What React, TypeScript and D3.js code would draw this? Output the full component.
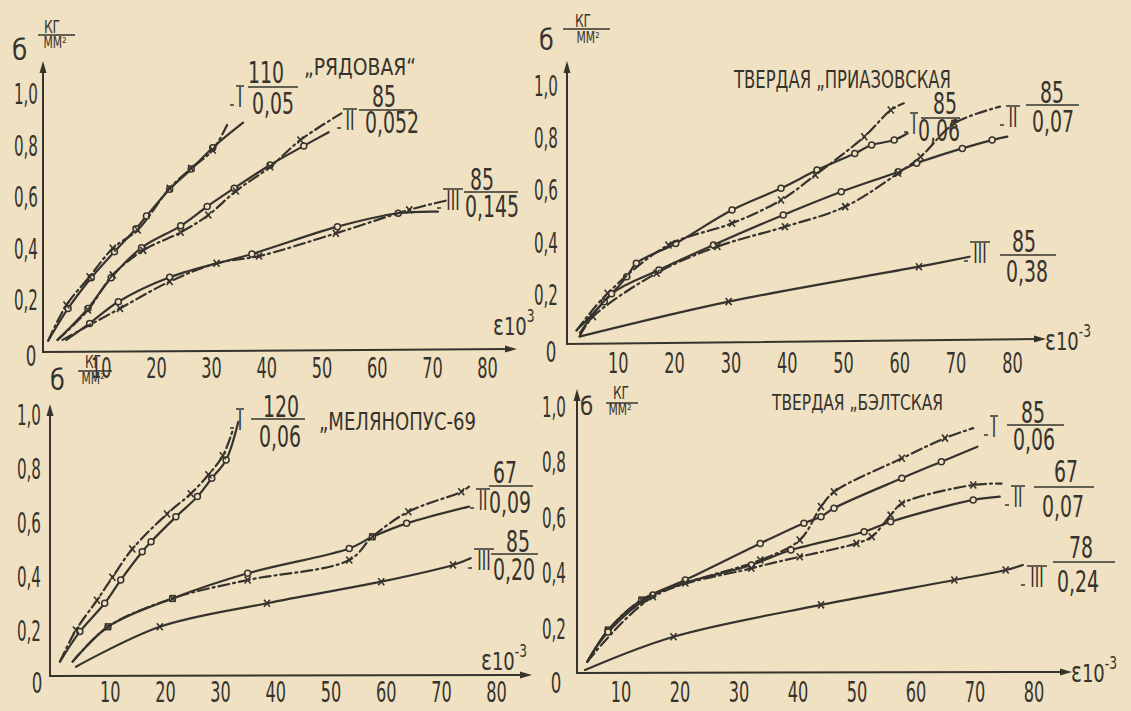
import * as d3 from "d3";
import React, { useEffect, useRef } from "react";

type Pt = [number, number];

const xTicks = [10, 20, 30, 40, 50, 60, 70, 80];
const yTicks = [0.2, 0.4, 0.6, 0.8, 1.0];
const yTickLabels = ["0,2", "0,4", "0,6", "0,8", "1,0"];

// "Рядовая"
const ryadIo: Pt[] = [[0.4, 0.04], [4.0, 0.165], [8.2, 0.284], [12.4, 0.385], [16.3, 0.474], [18.2, 0.523], [22.4, 0.627], [26.3, 0.705], [30.2, 0.788], [35.7, 0.885]];
const ryadIx: Pt[] = [[0.4, 0.04], [3.7, 0.178], [7.9, 0.288], [12.1, 0.398], [16.6, 0.469], [22.4, 0.631], [26.3, 0.708], [30.2, 0.779], [32.8, 0.876]];
const ryadIIo: Pt[] = [[2.1, 0.043], [7.6, 0.165], [11.8, 0.284], [17.3, 0.4], [24.4, 0.485], [29.2, 0.56], [34.1, 0.631], [40.6, 0.721], [46.7, 0.795], [51.2, 0.848]];
const ryadIIx: Pt[] = [[2.1, 0.043], [7.6, 0.159], [12.1, 0.295], [17.6, 0.39], [24.4, 0.46], [29.4, 0.527], [34.4, 0.62], [40.6, 0.714], [46.1, 0.818], [53.5, 0.921]];
const ryadIIIo: Pt[] = [[3.7, 0.043], [7.9, 0.107], [13.1, 0.191], [22.4, 0.286], [37.3, 0.376], [52.8, 0.482], [63.8, 0.534], [71.0, 0.54]];
const ryadIIIx: Pt[] = [[3.0, 0.043], [13.4, 0.165], [22.4, 0.269], [30.9, 0.34], [38.6, 0.368], [52.5, 0.456], [65.8, 0.547], [72.9, 0.585]];

// "Твердая Приазовская"
const priIo: Pt[] = [[2.6, 0.06], [7.5, 0.17], [11.5, 0.265], [13.2, 0.317], [20.2, 0.393], [30.2, 0.521], [38.9, 0.604], [45.3, 0.674], [52.0, 0.738], [55.0, 0.77], [59.0, 0.789], [61.4, 0.815]];
const priIx: Pt[] = [[2.6, 0.06], [8.1, 0.202], [18.9, 0.387], [30.2, 0.47], [38.9, 0.559], [45.0, 0.655], [53.7, 0.802], [58.4, 0.904], [60.7, 0.93]];
const priIIo: Pt[] = [[3.2, 0.05], [8.8, 0.2], [17.2, 0.291], [26.9, 0.387], [39.3, 0.502], [49.6, 0.591], [59.7, 0.668], [63.0, 0.7], [71.1, 0.757], [76.4, 0.789], [79.1, 0.802]];
const priIIx: Pt[] = [[3.2, 0.04], [5.5, 0.112], [16.8, 0.279], [27.6, 0.381], [39.6, 0.457], [50.3, 0.534], [59.7, 0.662], [63.7, 0.725], [69.7, 0.853], [77.8, 0.917]];
const priIII: Pt[] = [[3.1, 0.036], [29.6, 0.17], [63.4, 0.304], [72.4, 0.342]];

// "Мелянопус-69"
const melIo: Pt[] = [[0.9, 0.083], [4.5, 0.194], [9.0, 0.299], [11.9, 0.385], [15.8, 0.49], [17.4, 0.527], [21.9, 0.619], [25.8, 0.694], [28.4, 0.762], [31.0, 0.83], [33.2, 0.971]];
const melIx: Pt[] = [[0.9, 0.083], [3.8, 0.2], [7.6, 0.31], [10.4, 0.395], [14.0, 0.5], [20.3, 0.63], [24.6, 0.705], [27.8, 0.775], [30.4, 0.845], [32.2, 0.94]];
const melIIo: Pt[] = [[3.2, 0.083], [9.6, 0.212], [21.3, 0.317], [34.9, 0.41], [53.3, 0.502], [57.5, 0.545], [63.7, 0.595], [75.0, 0.657]];
const melIIx: Pt[] = [[3.2, 0.083], [9.6, 0.212], [21.3, 0.317], [34.9, 0.385], [53.3, 0.459], [57.5, 0.545], [64.0, 0.638], [73.6, 0.712], [75.0, 0.731]];
const melIII: Pt[] = [[3.8, 0.064], [19.0, 0.212], [38.4, 0.299], [59.1, 0.379], [72.1, 0.441], [75.3, 0.466]];

// "Твердая Бэлтская"
const belIo: Pt[] = [[4.3, 0.077], [7.8, 0.191], [13.5, 0.3], [20.9, 0.372], [33.6, 0.504], [41.0, 0.577], [43.9, 0.6], [46.1, 0.631], [57.6, 0.739], [64.3, 0.799], [70.4, 0.853]];
const belIx: Pt[] = [[4.3, 0.077], [7.8, 0.191], [13.5, 0.3], [20.9, 0.361], [33.6, 0.444], [40.3, 0.516], [43.9, 0.637], [46.1, 0.69], [57.6, 0.811], [64.9, 0.884], [69.7, 0.92]];
const belIIo: Pt[] = [[4.3, 0.077], [7.8, 0.184], [15.4, 0.318], [32.1, 0.426], [38.8, 0.48], [51.2, 0.546], [55.7, 0.582], [69.7, 0.661], [74.2, 0.673]];
const belIIx: Pt[] = [[4.3, 0.077], [15.4, 0.311], [32.1, 0.414], [40.3, 0.456], [49.9, 0.504], [52.5, 0.528], [55.7, 0.606], [57.6, 0.648], [69.7, 0.715], [74.5, 0.72]];
const belIII: Pt[] = [[3.9, 0.047], [18.9, 0.167], [43.9, 0.282], [66.5, 0.372], [75.2, 0.408], [78.1, 0.426]];

const INK = "#36332e";
const PAPER = "#efe1c1";
const FONT = "'Liberation Sans Narrow', 'DejaVu Sans Condensed', 'Arial Narrow', sans-serif";

interface Series { data: Pt[]; dash: boolean; marker: "o" | "x" }
interface Legend { roman: string; rx: number; ry: number; num: string; nx: number; ny: number; den: string; dx: number; dy: number; lx1: number; lx2: number; ly: number }
interface Panel {
  title: string; tx: number; ty: number; tw: number; ts: number;
  ox: number; oy: number; xEnd: number; oyEnd: number; yTop: number;
  xr: [number, number]; yr: [number, number];
  xLabY: number; yLabX: number; zero: [number, number];
  sig: { bx: number; by: number; bs: number; kx: number; ky: number; lx1: number; lx2: number; ly: number; mx: number; my: number };
  eps: { x: number; y: number; sup: string };
  series: Series[]; legends: Legend[];
}

const panels: Panel[] = [
  {
    title: "„РЯДОВАЯ“", tx: 304, ty: 75, tw: 112, ts: 23,
    ox: 43, oy: 352, xEnd: 513, oyEnd: 349, yTop: 65,
    xr: [46, 487.6], yr: [351, 93], xLabY: 378, yLabX: 38, zero: [31, 366],
    sig: { bx: 12, by: 60, bs: 29, kx: 52, ky: 33, lx1: 38, lx2: 75, ly: 35, mx: 55, my: 48 },
    eps: { x: 493, y: 335, sup: "3" },
    series: [
      { data: ryadIo, dash: false, marker: "o" }, { data: ryadIx, dash: true, marker: "x" },
      { data: ryadIIo, dash: false, marker: "o" }, { data: ryadIIx, dash: true, marker: "x" },
      { data: ryadIIIo, dash: false, marker: "o" }, { data: ryadIIIx, dash: true, marker: "x" },
    ],
    legends: [
      { roman: "I", rx: 240, ry: 107, num: "110", nx: 266, ny: 83, den: "0,05", dx: 273, dy: 114, lx1: 248, lx2: 298, ly: 87 },
      { roman: "II", rx: 350, ry: 130, num: "85", nx: 384, ny: 107, den: "0,052", dx: 392, dy: 133, lx1: 359, lx2: 413, ly: 110 },
      { roman: "III", rx: 453, ry: 210, num: "85", nx: 482, ny: 190, den: "0,145", dx: 492, dy: 217, lx1: 464, lx2: 518, ly: 192 },
    ],
  },
  {
    title: "ТВЕРДАЯ „ПРИАЗОВСКАЯ", tx: 734, ty: 88, tw: 217, ts: 24,
    ox: 567, oy: 344, xEnd: 1042, oyEnd: 339, yTop: 65,
    xr: [562, 1012.4], yr: [346, 85], xLabY: 373, yLabX: 558, zero: [551, 362],
    sig: { bx: 539, by: 50, bs: 28, kx: 583, ky: 27, lx1: 563, lx2: 610, ly: 29, mx: 588, my: 43 },
    eps: { x: 1045, y: 350, sup: "-3" },
    series: [
      { data: priIo, dash: false, marker: "o" }, { data: priIx, dash: true, marker: "x" },
      { data: priIIo, dash: false, marker: "o" }, { data: priIIx, dash: true, marker: "x" },
      { data: priIII, dash: false, marker: "x" },
    ],
    legends: [
      { roman: "I", rx: 914, ry: 134, num: "85", nx: 945, ny: 114, den: "0,06", dx: 939, dy: 141, lx1: 921, lx2: 960, ly: 118 },
      { roman: "II", rx: 1013, ry: 127, num: "85", nx: 1052, ny: 103, den: "0,07", dx: 1053, dy: 132, lx1: 1026, lx2: 1079, ly: 105 },
      { roman: "III", rx: 980, ry: 263, num: "85", nx: 1024, ny: 252, den: "0,38", dx: 1027, dy: 282, lx1: 1000, lx2: 1056, ly: 255 },
    ],
  },
  {
    title: "„МЕЛЯНОПУС-69", tx: 319, ty: 430, tw: 157, ts: 25,
    ox: 50, oy: 676, xEnd: 528, oyEnd: 675, yTop: 408,
    xr: [55, 496.6], yr: [684, 414], xLabY: 702, yLabX: 41, zero: [37, 693],
    sig: { bx: 50, by: 390, bs: 28, kx: 93, ky: 368, lx1: 78, lx2: 112, ly: 371, mx: 93, my: 384 },
    eps: { x: 481, y: 670, sup: "-3" },
    series: [
      { data: melIo, dash: false, marker: "o" }, { data: melIx, dash: true, marker: "x" },
      { data: melIIo, dash: false, marker: "o" }, { data: melIIx, dash: true, marker: "x" },
      { data: melIII, dash: false, marker: "x" },
    ],
    legends: [
      { roman: "I", rx: 240, ry: 430, num: "120", nx: 281, ny: 417, den: "0,06", dx: 280, dy: 447, lx1: 251, lx2: 305, ly: 419 },
      { roman: "II", rx: 483, ry: 510, num: "67", nx: 505, ny: 483, den: "0,09", dx: 510, dy: 513, lx1: 489, lx2: 533, ly: 486 },
      { roman: "III", rx: 484, ry: 570, num: "85", nx: 518, ny: 552, den: "0,20", dx: 514, dy: 580, lx1: 491, lx2: 538, ly: 554 },
    ],
  },
  {
    title: "ТВЕРДАЯ „БЭЛТСКАЯ", tx: 772, ty: 410, tw: 171, ts: 21,
    ox: 577, oy: 673, xEnd: 1068, oyEnd: 672, yTop: 393,
    xr: [562, 1034], yr: [683, 406], xLabY: 702, yLabX: 566, zero: [556, 693],
    sig: { bx: 580, by: 415, bs: 25, kx: 621, ky: 399, lx1: 606, lx2: 638, ly: 403, mx: 620, my: 415 },
    eps: { x: 1071, y: 682, sup: "-3" },
    series: [
      { data: belIo, dash: false, marker: "o" }, { data: belIx, dash: true, marker: "x" },
      { data: belIIo, dash: false, marker: "o" }, { data: belIIx, dash: true, marker: "x" },
      { data: belIII, dash: false, marker: "x" },
    ],
    legends: [
      { roman: "I", rx: 994, ry: 437, num: "85", nx: 1033, ny: 423, den: "0,06", dx: 1034, dy: 450, lx1: 1007, lx2: 1064, ly: 425 },
      { roman: "II", rx: 1018, ry: 507, num: "67", nx: 1066, ny: 482, den: "0,07", dx: 1063, dy: 517, lx1: 1034, lx2: 1094, ly: 487 },
      { roman: "III", rx: 1037, ry: 587, num: "78", nx: 1081, ny: 558, den: "0,24", dx: 1078, dy: 592, lx1: 1053, lx2: 1115, ly: 562 },
    ],
  },
];

const W = 1131;
const H = 711;

export default function App() {
  const svgRef = useRef<SVGSVGElement | null>(null);

  useEffect(() => {
    if (!svgRef.current) return;
    const svg = d3.select(svgRef.current);
    svg.selectAll("*").remove();

    svg.append("rect").attr("width", W).attr("height", H).attr("fill", PAPER);

    // narrow, tall lettering like the stencil on the original
    const txt = (g: any, x: number, y: number, s: string, size: number, anchor = "middle", sx = 0.85) =>
      g
        .append("text")
        .attr("transform", `translate(${x},${y}) scale(${sx},1)`)
        .attr("text-anchor", anchor)
        .attr("font-size", size)
        .attr("fill", INK)
        .text(s);

    panels.forEach((p) => {
      const g = svg.append("g").style("font-family", FONT);
      const x = d3.scaleLinear().domain([0, 80]).range(p.xr);
      const y = d3.scaleLinear().domain([0, 1]).range(p.yr);

      // axes with arrows
      g.append("path")
        .attr("d", `M${p.ox},${p.yTop}L${p.ox},${p.oy}L${p.xEnd},${p.oyEnd}`)
        .attr("fill", "none")
        .attr("stroke", INK)
        .attr("stroke-width", 2);
      g.append("path").attr("d", `M${p.ox},${p.yTop - 4}l-3.5,12l7,0z`).attr("fill", INK);
      g.append("path").attr("d", `M${p.xEnd + 4},${p.oyEnd}l-12,-3.5l0,7z`).attr("fill", INK);

      // tick labels
      xTicks.forEach((t) => txt(g, x(t), p.xLabY, String(t), 28, "middle", 0.64));
      yTicks.forEach((t, i) => txt(g, p.yLabX, y(t) + 11, yTickLabels[i], 29, "end", 0.58));
      txt(g, p.zero[0], p.zero[1], "0", 28, "middle", 0.66);

      // sigma label
      const s = p.sig;
      txt(g, s.bx, s.by, "б", s.bs, "start", 0.95);
      txt(g, s.kx, s.ky, "КГ", 17, "middle", 0.8);
      g.append("line").attr("x1", s.lx1).attr("x2", s.lx2).attr("y1", s.ly).attr("y2", s.ly)
        .attr("stroke", INK).attr("stroke-width", 1.5);
      txt(g, s.mx, s.my, "ММ²", 15, "middle", 0.8);

      // strain label
      const e = txt(g, p.eps.x, p.eps.y, "ε", 28, "start", 0.8);
      e.append("tspan").attr("font-size", 25).text("10");
      e.append("tspan").attr("font-size", 17).attr("dy", -13).text(p.eps.sup);

      // title
      g.append("text")
        .attr("x", p.tx)
        .attr("y", p.ty)
        .attr("font-size", p.ts)
        .attr("fill", INK)
        .attr("textLength", p.tw)
        .attr("lengthAdjust", "spacingAndGlyphs")
        .text(p.title);

      // curves
      const line = d3
        .line<Pt>()
        .x((d) => x(d[0]))
        .y((d) => y(d[1]))
        .curve(d3.curveCatmullRom.alpha(0.5));

      p.series.forEach((sr) => {
        g.append("path")
          .attr("d", line(sr.data))
          .attr("fill", "none")
          .attr("stroke", INK)
          .attr("stroke-width", 2.2)
          .attr("stroke-linecap", "round")
          .attr("stroke-dasharray", sr.dash ? "11,4,2,4" : null);

        const inner = sr.data.slice(1, -1);
        if (sr.marker === "o") {
          g.selectAll(null)
            .data(inner)
            .join("circle")
            .attr("cx", (d) => x(d[0]))
            .attr("cy", (d) => y(d[1]))
            .attr("r", 3)
            .attr("fill", PAPER)
            .attr("stroke", INK)
            .attr("stroke-width", 1.5);
        } else {
          g.selectAll(null)
            .data(inner)
            .join("path")
            .attr("d", (d) => {
              const cx = x(d[0]);
              const cy = y(d[1]);
              return `M${cx - 3},${cy - 3.5}L${cx + 3},${cy + 3.5}M${cx - 3},${cy + 3.5}L${cx + 3},${cy - 3.5}`;
            })
            .attr("stroke", INK)
            .attr("stroke-width", 1.6);
        }
      });

      // legend: roman numeral and the fraction beside it
      p.legends.forEach((l) => {
        txt(g, l.rx, l.ry, l.roman, 27, "middle", 0.62);
        const w = l.roman.length * 3 + 1;
        g.append("line").attr("x1", l.rx - w).attr("x2", l.rx + w).attr("y1", l.ry - 21).attr("y2", l.ry - 21)
          .attr("stroke", INK).attr("stroke-width", 1.5);
        g.append("line").attr("x1", l.rx - w - 6).attr("x2", l.rx - w - 2).attr("y1", l.ry - 2).attr("y2", l.ry - 2)
          .attr("stroke", INK).attr("stroke-width", 1.5);
        txt(g, l.nx, l.ny, l.num, 30, "middle", 0.7);
        g.append("line").attr("x1", l.lx1).attr("x2", l.lx2).attr("y1", l.ly).attr("y2", l.ly)
          .attr("stroke", INK).attr("stroke-width", 1.6);
        txt(g, l.dx, l.dy, l.den, 30, "middle", 0.7);
      });
    });
  }, []);

  return (
    <div style={{ position: "fixed", left: 0, top: 0, width: W, height: H }}>
      <svg ref={svgRef} width={W} height={H} style={{ display: "block" }} />
    </div>
  );
}
